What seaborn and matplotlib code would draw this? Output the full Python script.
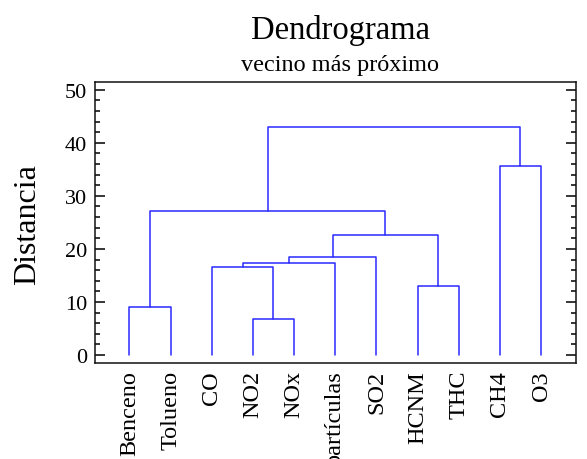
import matplotlib

matplotlib.use("Agg")
import matplotlib.pyplot as plt
import pandas as pd
import seaborn as sns
from matplotlib.ticker import MultipleLocator

# hojas en el orden del dendrograma
hojas = ["Benceno", "Tolueno", "CO", "NO2", "NOx", "partículas",
         "SO2", "HCNM", "THC", "CH4", "O3"]

# uniones (formato tipo linkage): índice de cada hijo y distancia
# los clusters nuevos se numeran a partir de len(hojas)
hijo_a = [3, 0, 7, 2, 14, 15, 16, 12, 9, 18]
hijo_b = [4, 1, 8, 11, 5, 6, 13, 17, 10, 19]
distancias = [6.85, 9.0, 13.1, 16.65, 17.4, 18.55, 22.7, 27.1, 35.6, 43.0]

sns.set_style("ticks")
plt.rcParams["font.family"] = ["Liberation Serif", "DejaVu Serif"]
plt.rcParams["text.color"] = "black"
plt.rcParams["xtick.color"] = "black"
plt.rcParams["ytick.color"] = "black"

# coordenadas de cada nodo (x = posición, y = altura)
pos_x = {i: float(i) for i in range(len(hojas))}
pos_y = {i: 0.0 for i in range(len(hojas))}
filas = []
for k, (a, b, d) in enumerate(zip(hijo_a, hijo_b, distancias)):
    nodo = len(hojas) + k
    xs = [pos_x[a], pos_x[a], pos_x[b], pos_x[b]]
    ys = [pos_y[a], d, d, pos_y[b]]
    for orden, (x, y) in enumerate(zip(xs, ys)):
        filas.append({"enlace": k, "orden": orden, "x": x, "y": y})
    pos_x[nodo] = (pos_x[a] + pos_x[b]) / 2
    pos_y[nodo] = d
segmentos = pd.DataFrame(filas)

fig = plt.figure(figsize=(5.87, 4.6), dpi=100)
ax = fig.add_axes([0.1623, 0.2087, 0.8190, 0.6102])

sns.lineplot(data=segmentos, x="x", y="y", units="enlace", estimator=None,
             sort=False, color="#2a2aff", linewidth=1.1, ax=ax)

ax.set_xlim(-0.83, 10.85)
ax.set_ylim(-1.5, 51.4)
ax.set_xticks(range(len(hojas)))
ax.set_xticklabels(hojas, rotation=90, fontsize=17.5, color="black")
ax.tick_params(axis="x", length=0, pad=5)
ax.yaxis.set_major_locator(MultipleLocator(10))
ax.yaxis.set_minor_locator(MultipleLocator(2))
ax.tick_params(axis="y", which="both", direction="in", left=True, right=True,
               labelsize=16, pad=6, color="black", labelcolor="black")
ax.tick_params(axis="y", which="major", length=7.2, width=1.1)
ax.tick_params(axis="y", which="minor", length=3.6, width=1.1)
for s in ax.spines.values():
    s.set_visible(True)
    s.set_color("#111111")
    s.set_linewidth(1.1)
ax.set_xlabel("")
ax.set_ylabel("")

fig.text(340 / 587, 1 - 39.5 / 460, "Dendrograma", fontsize=23.5,
         ha="center", va="baseline")
fig.text(340 / 587, 1 - 71 / 460, "vecino más próximo", fontsize=17.5,
         ha="center", va="baseline")
fig.text(28 / 587, 1 - 225 / 460, "Distancia", fontsize=23, rotation=90,
         ha="center", va="center")

fig.savefig("out.png", dpi=100)
